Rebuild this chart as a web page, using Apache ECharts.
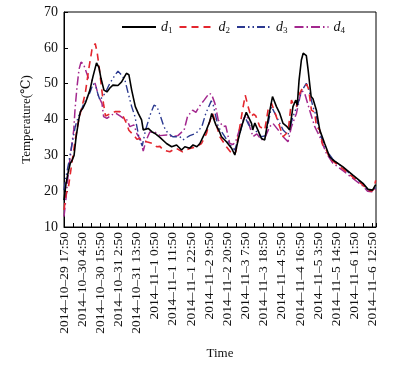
<!DOCTYPE html>
<html>
<head>
<meta charset="utf-8">
<script src="https://cdn.jsdelivr.net/npm/echarts@6/dist/echarts.min.js"></script>
<style>html,body{margin:0;padding:0;background:#fff}#c{width:400px;height:365px}</style>
</head>
<body>
<div id="c"></div>
<script>
// x values: hours after 2014-10-29 17:50
const tickLabels = ['2014–10–29 17:50','2014–10–30 4:50','2014–10–30 15:50','2014–10–31 2:50','2014–10–31 13:50','2014–11–1 0:50','2014–11–1 11:50','2014–11–1 22:50','2014–11–2 9:50','2014–11–2 20:50','2014–11–3 7:50','2014–11–3 18:50','2014–11–4 5:50','2014–11–4 16:50','2014–11–5 3:50','2014–11–5 14:50','2014–11–6 1:50','2014–11–6 12:50'];
const seriesNames = ['d1','d2','d3','d4'];

const d1 = [[0,17.5],[1.2,22],[2.4,25],[3.8,27.8],[4.8,28.5],[6.1,30],[7.3,35],[8.9,39.8],[9.9,42.2],[11.5,43.2],[13.3,45],[15.7,48.2],[17.5,51.9],[19.7,55.8],[21.2,54.5],[22.4,51.5],[24.2,48.2],[26,47.7],[27.8,48.8],[29.6,49.6],[32.7,49.5],[34.9,50.5],[37.8,52.9],[39.3,52.5],[41,48.2],[43.2,43.6],[45,41.7],[47,39.9],[48,37.1],[51,37.5],[53.2,36.6],[55.1,36.1],[58.1,35],[62.1,33.3],[65.2,32.4],[68.2,32.9],[71.2,31.5],[73.2,32.4],[76.2,32],[78.2,32.9],[80.5,32.4],[82.3,33.3],[84.3,35.2],[86.3,37.1],[88.3,39.5],[89.5,41.7],[92,38.5],[93.8,37],[95.4,35.2],[98.4,33.8],[101.5,32],[103.5,30.1],[105.5,34.3],[107.5,38],[110.4,42],[113.6,38.9],[114.3,37.1],[115.6,39],[117.4,37.1],[119.6,34.7],[121.6,34.3],[123.6,39.9],[126.3,46.4],[128.7,43.6],[130.7,41.7],[132.7,38.9],[135.1,38],[136.7,37.1],[138.7,43.6],[140.4,45.4],[141.3,44],[142.4,51],[143.8,56.6],[144.9,58.5],[146.8,57.8],[147.9,53.8],[148.8,50],[149.7,46.4],[150.8,45.8],[152.9,42.6],[154.9,37.1],[157.9,33.3],[160.9,29.6],[162.9,28.7],[169,26.8],[175,24.5],[181.1,22.2],[184.2,20.5],[186.9,20.3],[188.8,21.8]];

const d2 = [[0,14.8],[1.2,19],[2.8,21.5],[4.8,28],[6.8,34.3],[8.5,39],[9.9,41.7],[12.9,47.3],[14.9,53.8],[16.9,59.4],[18.9,61.2],[20,59],[21.2,55],[22.7,49],[23.9,44.5],[25.1,41],[26,40.5],[27.8,41.5],[30.9,42.2],[33.9,42.2],[35.9,40.8],[37.9,38.9],[39.3,37],[41,36.2],[42.4,35.5],[44.2,34.5],[46,34.7],[50,33.8],[53.8,33.3],[56.1,32.4],[58.1,32.5],[60.1,31.5],[64.1,31],[67.8,32],[71.8,31],[76.2,31.9],[80.3,32.4],[83.3,33.3],[86.3,36.1],[87.9,38.9],[90,41.7],[92,38.9],[94.4,35.2],[98.4,32.4],[102.4,30.1],[104.1,31],[106.5,38],[108.3,43],[109.8,46.8],[111.5,43.6],[113.3,40.8],[114.9,41.5],[116.2,41],[118.6,38],[121.6,37.1],[123.6,42.6],[125.7,44.5],[127.7,42],[130.7,38],[132.7,35.2],[134.7,36.1],[136.1,38],[137.8,45.4],[139.2,44],[140.8,43.6],[141.8,46.4],[143.8,48.2],[145.8,49.2],[147,49.8],[148.2,48.5],[149.9,42.6],[151.9,42],[152.9,38],[154.9,37.1],[156.9,32.4],[158.9,31.5],[160.9,29.2],[164,28],[168.8,26.3],[174.8,24],[180.9,21.8],[183.9,20.3],[186.3,20],[187.6,20.5],[188.8,23]];

const d3 = [[0,20.3],[1.2,24],[2.8,27.8],[4.8,33],[6.8,38],[8.5,40.5],[10.3,42.5],[12.1,44.5],[13.9,46],[15.7,47.5],[17.7,50],[19.4,49],[20.6,47],[21.8,45.4],[23,45.5],[24.8,47.3],[27.8,50.1],[30.9,52.4],[32.7,53.5],[34.9,52.4],[36.9,51],[38.9,47.3],[41,43.6],[43,40.8],[45.4,35],[47.4,32.6],[49.4,37.1],[52.5,41.7],[54.5,44],[56.3,43.6],[58.4,41],[60.5,38],[62.9,36.2],[65.9,35.2],[70.2,35.2],[72,34.3],[76.2,35.5],[79.9,36.1],[83.5,38],[85.9,41.7],[89.2,45.2],[90.4,44],[92,40.8],[93.4,38],[97.4,35.2],[100.4,33],[103.5,31.5],[106.5,36.1],[109.5,40.8],[111.9,38.5],[115.6,37.1],[119.6,35.2],[122.2,35.5],[125.7,43.6],[128.7,40.8],[132.7,37.1],[135.7,35.7],[138.7,40.8],[141.8,44.5],[144,48],[146.8,50.1],[148.5,48],[150.8,43.6],[152.8,41],[154.9,36.1],[158.9,31.5],[162.7,29],[168.8,26.6],[174.8,24.3],[180.9,22],[183.9,20.5],[186.3,20],[188.8,21]];

const d4 = [[0,12.9],[1.2,18],[2.8,25.9],[4.2,31],[5.9,37.1],[6.7,43],[7.9,49.2],[9.1,54],[10.3,56],[11.8,55.5],[13.3,53.5],[14.8,51.5],[16.9,51],[18.9,50],[21,46.4],[23,44.5],[24,40.8],[26,40.3],[29,41.3],[31.5,41.7],[33.9,41],[36.3,40.2],[38.1,39.9],[39.9,38],[42.4,38.5],[44.2,36],[46.4,34.3],[48,31.2],[49.6,34],[52,36.5],[55.1,36.5],[58.1,35.5],[62.1,35.7],[65.8,35.2],[69,35.5],[72.8,37.1],[74.8,40.8],[77.9,42.6],[79.9,42],[81.9,43.6],[84.9,45.4],[87.9,47.3],[89.4,47],[91.4,44.5],[93.4,39.9],[96.4,38],[98,38.2],[100.4,33.3],[102.4,33],[104.1,34],[107.5,38.9],[110.5,41.7],[112.5,38],[114.5,35.2],[116.8,36],[119.6,34.3],[121.6,34.8],[124.6,38],[126.6,38.9],[129.7,37.1],[132.7,35.2],[135.7,33.8],[137.8,38],[140.8,41.7],[143.8,48.2],[145.8,47.3],[148.8,42.6],[151.9,38],[154.9,35.2],[158.9,30.6],[162.9,27.8],[168.8,25.8],[174.8,23.6],[180.9,21.5],[183.9,20],[186.3,19.8],[188.8,20.5]];

const FONT = '"Liberation Serif","DejaVu Serif",serif';
const chart = echarts.init(document.getElementById('c'), null, {renderer: 'canvas'});

const styles = [
  {color: '#000000', type: 'solid', width: 1.6},
  {color: '#e3262e', type: [7, 5], width: 1.6},
  {color: '#2b3990', type: [8, 3, 1.5, 3, 1.5, 3], width: 1.4},
  {color: '#a3288e', type: [9, 3, 1.5, 3], width: 1.5}
];
const datas = [d1, d2, d3, d4];

chart.setOption({
  animation: false,
  backgroundColor: '#fff',
  grid: {left: 64, right: 24, top: 12, bottom: 137, show: true, borderColor: '#000', borderWidth: 1, backgroundColor: 'transparent'},
  legend: {
    left: 116, top: 15, itemWidth: 34, itemHeight: 14, itemGap: 6,
    data: seriesNames,
    itemStyle: {opacity: 0},
    formatter: function (n) { return '{i|d}{s|' + n.slice(1) + '}'; },
    textStyle: {
      rich: {
        i: {fontFamily: FONT, fontStyle: 'italic', fontSize: 14, color: '#111'},
        s: {fontFamily: FONT, fontSize: 9, color: '#111', padding: [7, 0, 0, 0]}
      }
    }
  },
  xAxis: {
    type: 'value', min: 0, max: 189, interval: 11,
    name: 'Time', nameLocation: 'middle', nameGap: 120,
    nameTextStyle: {fontFamily: FONT, fontSize: 13, color: '#111'},
    axisLine: {lineStyle: {color: '#000', width: 1}},
    axisTick: {inside: true, length: 4, lineStyle: {color: '#000'}},
    minorTick: {show: true, splitNumber: 2, length: 4, lineStyle: {color: '#000'}},
    splitLine: {show: false},
    axisLabel: {
      rotate: 90, margin: 5, fontFamily: FONT, fontSize: 13.5, color: '#111', showMaxLabel: false,
      formatter: function (v) {
        const k = Math.round(v / 11);
        return Math.abs(v - k * 11) < 1e-6 && tickLabels[k] ? tickLabels[k] : '';
      }
    }
  },
  yAxis: {
    type: 'value', min: 10, max: 70, interval: 10,
    name: 'Temperature(℃)', nameLocation: 'middle', nameGap: 24,
    nameTextStyle: {fontFamily: FONT, fontSize: 13, color: '#111'},
    axisLine: {show: true, lineStyle: {color: '#000', width: 1}},
    axisTick: {show: true, inside: true, length: 4, lineStyle: {color: '#000'}},
    splitLine: {show: false},
    axisLabel: {fontFamily: FONT, fontSize: 14, color: '#111', margin: 6}
  },
  series: seriesNames.map(function (n, i) {
    return {
      name: n, type: 'line', data: datas[i], symbol: 'none', showSymbol: false,
      lineStyle: {color: styles[i].color, type: styles[i].type, width: styles[i].width},
      itemStyle: {color: styles[i].color},
      z: 10 - i
    };
  })
});
</script>
</body>
</html>
